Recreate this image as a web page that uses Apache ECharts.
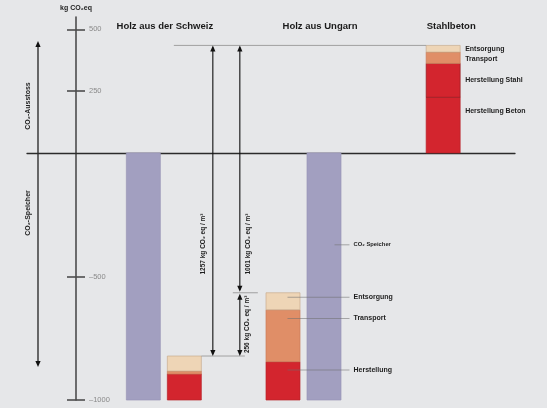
<!DOCTYPE html>
<html>
<head>
<meta charset="utf-8">
<script src="https://cdn.jsdelivr.net/npm/echarts@6.0.0/dist/echarts.min.js"></script>
<style>
  html, body { margin: 0; padding: 0; background: #e6e7e9; }
  #chart { width: 547px; height: 408px; }
</style>
</head>
<body>
<div id="chart"></div>
<script>
// values in kg CO2 eq per m3
const categories = ['Holz aus der Schweiz', 'Holz aus Ungarn', 'Stahlbeton']
const speicher = [-1000, -1000, 0]
const herstellung = [105, 155, 225]      // Stahlbeton: Herstellung Beton
const herstellungStahl = [0, 0, 137]
const transport = [12, 210, 46]
const entsorgung = [61, 69, 27]
const tickValues = [500, 250, -500, -1000]

const FONT = '"Liberation Sans", Arial, sans-serif'
const BAR_W = 34
const speicherLane = [-20.5, 20.5, 0]
const emissionLane = [20.5, -20.5, 0]

const layers = [
    { name: 'Herstellung', values: herstellung, color: '#d3252e', border: '#b8222a' },
    { name: 'Herstellung Stahl', values: herstellungStahl, color: '#d3252e', border: '#921b20' },
    { name: 'Transport', values: transport, color: '#e08e67', border: '#c97b59' },
    { name: 'Entsorgung', values: entsorgung, color: '#eed5b6', border: '#c9ad8f' }
]

// stack the emissions on top of the storage (wood) or on zero (concrete)
const running = speicher.slice()
const segTop = {}
layers.forEach(l => {
    l.data = []
    l.values.forEach((v, i) => {
        if (v) l.data.push([i, running[i], running[i] + v])
        running[i] += v
    })
    segTop[l.name] = running.slice()
})
const totals = running

const barRender = (lane, fill, stroke) => (params, api) => {
    const i = api.value(0)
    const p0 = api.coord([i, api.value(1)])
    const p1 = api.coord([i, api.value(2)])
    return {
        type: 'rect',
        shape: {
            x: p0[0] + lane[i] - BAR_W / 2,
            y: Math.min(p0[1], p1[1]),
            width: BAR_W,
            height: Math.abs(p1[1] - p0[1])
        },
        style: { fill: fill, stroke: stroke, lineWidth: 0.7 }
    }
}

const txt = (text, x, y, opts) => Object.assign({
    type: 'text', x: x, y: y,
    style: Object.assign({
        text: text, fill: '#1e1e1e', fontFamily: FONT, fontSize: 7, fontWeight: 'bold',
        align: 'left', verticalAlign: 'middle'
    }, opts || {})
}, opts && opts.rot ? { rotation: opts.rot } : {})

const line = (x1, y1, x2, y2, color, width, opacity) => ({
    type: 'line',
    shape: { x1: x1, y1: y1, x2: x2, y2: y2 },
    style: { stroke: color, lineWidth: width, opacity: opacity == null ? 1 : opacity }
})

const head = (x, y, dir) => ({
    type: 'polygon',
    shape: { points: [[x, y], [x - 2.6, y - dir * 6], [x + 2.6, y - dir * 6]] },
    style: { fill: '#111' }
})

// vertical double arrow, top tip yA, bottom tip yB
const arrow = (x, yA, yB) => [
    line(x, yA + 2, x, yB - 2, '#111', 1.1),
    head(x, yA, -1),
    head(x, yB, 1)
]

const annotationRender = (params, api) => {
    const cx = i => api.coord([i, 0])[0]
    const yv = v => api.coord([0, v])[1]
    const yTop = yv(totals[2]), ySw = yv(totals[0]), yHu = yv(totals[1])
    const c0 = cx(0), c1 = cx(1), c2 = cx(2)
    const unit = ' kg CO₂ eq / m³'
    const kids = [
        line(c0 + 10, yTop, c2 - BAR_W / 2, yTop, '#999', 0.9),
        line(c0 + emissionLane[0] + BAR_W / 2, ySw, c0 + 81, ySw, '#999', 0.9),
        line(c0 + 69, yHu, c0 + 94, yHu, '#999', 0.9)
    ]
    kids.push(...arrow(c0 + 49, yTop, ySw))
    kids.push(...arrow(c0 + 76, yTop, yHu - 1))
    kids.push(...arrow(c0 + 76, yHu + 1, ySw))
    kids.push(txt((totals[2] - totals[0]) + unit, c0 + 39.5, 244, { rot: Math.PI / 2, align: 'center', fontSize: 6.5 }))
    kids.push(txt((totals[2] - totals[1]) + unit, c0 + 84.5, 244, { rot: Math.PI / 2, align: 'center', fontSize: 6.5 }))
    kids.push(txt((totals[1] - totals[0]) + unit, c0 + 83.5, (yHu + ySw) / 2, { rot: Math.PI / 2, align: 'center', fontSize: 6.5 }))

    // Ungarn: leader lines and labels
    const lx = c1 + 50
    const ySp = yv(-372)
    kids.push(line(c1 + 31, ySp, c1 + 46, ySp, '#777', 1, 0.6))
    kids.push(txt('CO₂ Speicher', lx, ySp, { fontSize: 5.8 }))
    const huLabels = [
        ['Entsorgung', yHu + 4.5],
        ['Transport', yv(segTop['Transport'][1]) + 8.7],
        ['Herstellung', yv(segTop['Herstellung'][1]) + 8.3]
    ]
    huLabels.forEach(([t, y]) => {
        kids.push(line(c1 - 16, y, c1 + 46, y, '#6f6f6f', 1, 0.55))
        kids.push(txt(t, lx, y))
    })

    // Stahlbeton labels
    const sx = c2 + 22
    kids.push(txt('Entsorgung', sx, (yv(segTop['Transport'][2]) + yTop) / 2))
    kids.push(txt('Transport', sx, (yv(segTop['Herstellung Stahl'][2]) + yv(segTop['Transport'][2])) / 2 + 1.3))
    kids.push(txt('Herstellung Stahl', sx, (yv(segTop['Herstellung'][2]) + yv(segTop['Herstellung Stahl'][2])) / 2))
    kids.push(txt('Herstellung Beton', sx, yv(segTop['Herstellung'][2]) + 14))
    return { type: 'group', children: kids }
}

const series = [{
    type: 'custom', name: 'CO₂ Speicher', xAxisIndex: 1, yAxisIndex: 2,
    renderItem: barRender(speicherLane, '#a29fc0', '#9996b8'),
    encode: { x: 0, y: [1, 2] },
    data: speicher.map((v, i) => [i, 0, v]).filter(d => d[2] !== 0)
}]
layers.forEach(l => series.push({
    type: 'custom', name: l.name, xAxisIndex: 1, yAxisIndex: 2,
    renderItem: barRender(emissionLane, l.color, l.border),
    encode: { x: 0, y: [1, 2] },
    data: l.data
}))
series.push({
    type: 'custom', name: 'annotation', xAxisIndex: 1, yAxisIndex: 2, silent: true, z: 5,
    renderItem: annotationRender,
    data: [[0, 0, 0]]
})

const tickStyle = { color: '#4d4d4d', width: 1.6 }
const titleStyle = { fontFamily: FONT, fontSize: 9.5, fontWeight: 'bold', color: '#1a1a1a' }
const option = {
    backgroundColor: '#e6e7e9',
    animation: false,
    grid: [
        { left: 27, right: 32, top: 17, bottom: 8, outerBoundsMode: 'none' },
        { left: 94, right: 34, top: 17, bottom: 8, outerBoundsMode: 'none' }
    ],
    xAxis: [{
        gridIndex: 0, type: 'value', min: 0, max: 1,
        axisLine: { onZero: true, lineStyle: { color: '#2b2b2b', width: 1.3 } },
        axisTick: { show: false }, axisLabel: { show: false }, splitLine: { show: false }
    }, {
        gridIndex: 1, type: 'category', data: categories, position: 'top',
        axisLine: { show: false }, axisTick: { show: false },
        axisLabel: {
            inside: true, margin: 4, interval: 0, hideOverlap: false,
            formatter: (v, i) => '{t' + i + '|' + v + '}',
            rich: {
                t0: Object.assign({ padding: [0, 0, 0, 2] }, titleStyle),
                t1: Object.assign({ padding: [0, 0, 0, 33] }, titleStyle),
                t2: Object.assign({ padding: [0, 0, 0, 16] }, titleStyle)
            }
        },
        splitLine: { show: false }
    }],
    yAxis: [{
        gridIndex: 0, type: 'value', min: -1000, max: 550, position: 'left', offset: -49,
        axisLine: { show: true, lineStyle: { color: '#4d4d4d', width: 1.6 } },
        axisTick: { show: true, length: 9, customValues: tickValues, lineStyle: tickStyle },
        axisLabel: { show: false }, splitLine: { show: false }
    }, {
        gridIndex: 0, type: 'value', min: -1000, max: 550, position: 'left', offset: -49,
        axisLine: { show: false },
        axisTick: { show: true, inside: true, length: 9, customValues: tickValues, lineStyle: tickStyle },
        axisLabel: {
            inside: true, margin: 13, customValues: tickValues,
            color: '#8a8a8a', fontFamily: FONT, fontSize: 7.5,
            formatter: v => v < 0 ? '–' + Math.abs(v) : String(v)
        },
        splitLine: { show: false }
    }, {
        gridIndex: 1, type: 'value', min: -1000, max: 550, show: false
    }],
    graphic: [
        txt('kg CO₂eq', 76, 8, { align: 'center', fontSize: 7 }),
        line(38, 44, 38, 364, '#111', 1.2),
        head(38, 41, -1),
        head(38, 367, 1),
        txt('CO₂-Ausstoss', 28, 106, { rot: Math.PI / 2, align: 'center' }),
        txt('CO₂-Speicher', 28, 213, { rot: Math.PI / 2, align: 'center' })
    ],
    series: series
}

const chart = echarts.init(document.getElementById('chart'))
chart.setOption(option)
</script>
</body>
</html>
